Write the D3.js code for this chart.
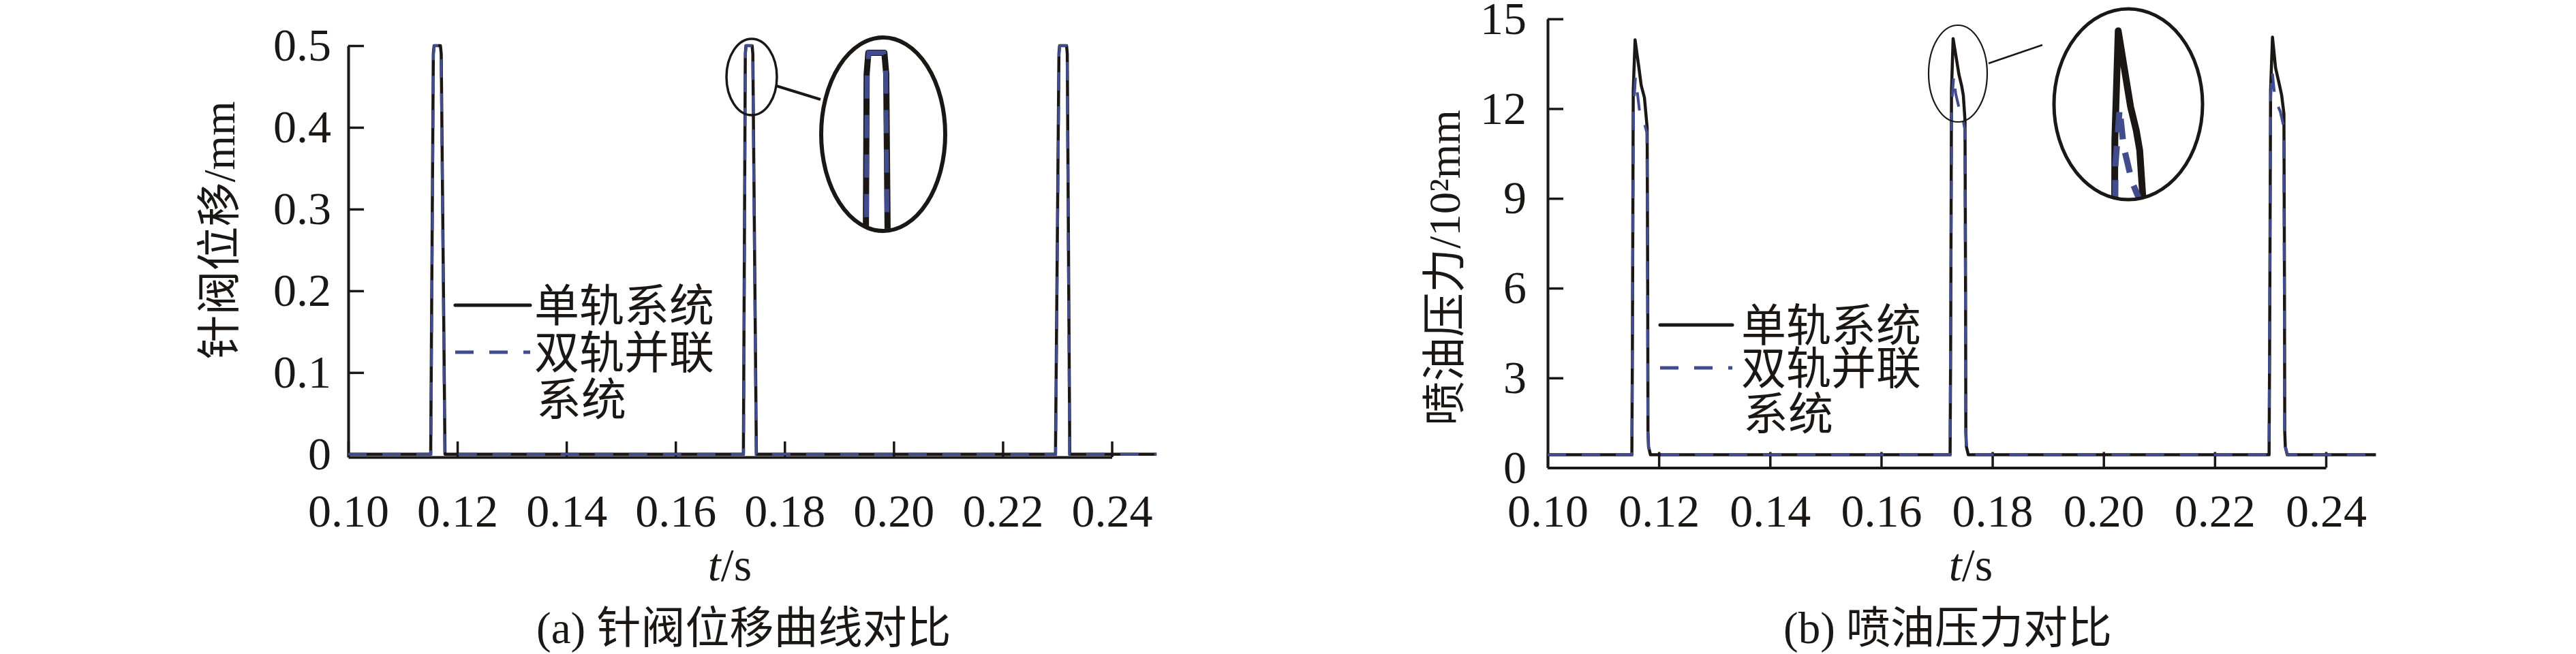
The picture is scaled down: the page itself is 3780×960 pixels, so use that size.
<!DOCTYPE html>
<html>
<head>
<meta charset="utf-8">
<title>针阀位移与喷油压力对比</title>
<script src="https://d3js.org/d3.v7.min.js"></script>
<style>
body { margin: 0; background: white; }
text { fill: #1a1715; }
.serif { font-family: "Liberation Serif", "Noto Sans CJK SC", serif; }
.cjk { font-family: "Liberation Serif", "Noto Sans CJK SC", sans-serif; }
</style>
</head>
<body>
<script>
// time axis
var timeTicks = [0.10, 0.12, 0.14, 0.16, 0.18, 0.20, 0.22, 0.24];
var needleTicks = [0, 0.1, 0.2, 0.3, 0.4, 0.5];
var pressureTicks = [0, 3, 6, 9, 12, 15];
var legendLabels = ["单轨系统", "双轨并联", "系统"];

// (a) needle lift, mm
var needleT_single = [0.1000, 0.11512, 0.11560, 0.11575, 0.11690, 0.11705, 0.11774,
  0.17245, 0.17280, 0.17292, 0.17405, 0.17418, 0.17483,
  0.22967, 0.23030, 0.23042, 0.23170, 0.23183, 0.23229, 0.2482];
var needleV_single = [0, 0, 0.49, 0.5, 0.5, 0.49, 0,
  0, 0.49, 0.5, 0.5, 0.49, 0,
  0, 0.49, 0.5, 0.5, 0.49, 0, 0];
var needleT_dual = [0.1000, 0.11516, 0.11563, 0.11578, 0.11688, 0.11702, 0.11770,
  0.17249, 0.17283, 0.17295, 0.17402, 0.17415, 0.17479,
  0.22971, 0.23033, 0.23045, 0.23167, 0.23180, 0.23225, 0.2482];
var needleV_dual = [0, 0, 0.49, 0.5, 0.5, 0.49, 0,
  0, 0.49, 0.5, 0.5, 0.49, 0,
  0, 0.49, 0.5, 0.5, 0.49, 0, 0];

// (b) injection pressure, x10^2
var pressT_single = [0.1000,
  0.11515, 0.11525, 0.11540, 0.11573, 0.11643, 0.11683, 0.11741, 0.11790, 0.11800, 0.11805, 0.11815, 0.11850,
  0.17240, 0.17250, 0.17265, 0.17294, 0.17400, 0.17448, 0.17478, 0.17508, 0.17518, 0.17523, 0.17533, 0.17568,
  0.22978, 0.22988, 0.23005, 0.23039, 0.23095, 0.23166, 0.23205, 0.23245, 0.23255, 0.23260, 0.23270, 0.23305,
  0.2490];
var pressV_single = [0.43,
  0.43, 4, 12.6, 14.3, 13.35, 12.78, 12.37, 11.37, 6, 1.2, 0.7, 0.43,
  0.43, 4, 12.6, 14.34, 13.13, 12.76, 12.44, 11.6, 6, 1.2, 0.7, 0.43,
  0.43, 4, 12.6, 14.39, 13.36, 12.78, 12.44, 11.83, 6, 1.2, 0.7, 0.43,
  0.43];
var pressT_dual = [0.1000,
  0.11513, 0.11523, 0.11545, 0.11580, 0.11610, 0.11660, 0.11740, 0.11785, 0.11797, 0.11803, 0.11815, 0.11850,
  0.17238, 0.17248, 0.17270, 0.17306, 0.17340, 0.17410, 0.17465, 0.17505, 0.17515, 0.17521, 0.17533, 0.17568,
  0.22976, 0.22986, 0.23008, 0.23033, 0.23070, 0.23110, 0.23180, 0.23240, 0.23252, 0.23258, 0.23270, 0.23305,
  0.2490];
var pressV_dual = [0.43,
  0.43, 4, 12.0, 13.05, 12.6, 11.8, 11.5, 11.2, 6, 1.2, 0.7, 0.43,
  0.43, 4, 12.2, 13.1, 12.5, 11.95, 11.7, 11.3, 6, 1.2, 0.7, 0.43,
  0.43, 4, 12.4, 13.28, 12.6, 12.2, 11.9, 11.4, 6, 1.2, 0.7, 0.43,
  0.43];

var ink = "#1a1715";
var blue = "#414c8d";

var svg = d3.select("body").append("svg")
  .attr("width", 3780)
  .attr("height", 960);

var panels = [
  {
    id: "a",
    xRange: [511, 1631.5], yRange: [671, 67], yDomain: [-0.0035, 0.5],
    yTicks: needleTicks, yFmt: function(d) { return d === 0 ? "0" : d3.format(".1f")(d); },
    single: d3.zip(needleT_single, needleV_single), dual: d3.zip(needleT_dual, needleV_dual),
    yPad: 25, ylabel: "针阀位移/mm", ylabelPos: [322, 338],
    tsX: 1071, title: "(a) 针阀位移曲线对比", titleX: 787,
    legendLine: [668, 778], legendText: 784, legendY: [449, 518, 587],
    small: { cx: 1103, cy: 113, rx: 37, ry: 56, w: 3.5 },
    big: { cx: 1296, cy: 197, rx: 91, ry: 142, w: 6 },
    mag: 2.6, link: [1139, 126, 1204, 146], linkW: 4,
    insetW: [9, 7], insetDash: "34,24"
  },
  {
    id: "b",
    xRange: [2271, 3413], yRange: [686.5, 27.7], yDomain: [0, 15],
    yTicks: pressureTicks, yFmt: d3.format("d"),
    single: d3.zip(pressT_single, pressV_single), dual: d3.zip(pressT_dual, pressV_dual),
    yPad: 31, ylabel: "喷油压力/10²mm", ylabelPos: [2120, 393],
    tsX: 2892, title: "(b) 喷油压力对比", titleX: 2617,
    legendLine: [2436, 2542], legendText: 2555, legendY: [478, 541, 608],
    small: { cx: 2873, cy: 108, rx: 43, ry: 71, w: 2.2 },
    big: { cx: 3123, cy: 153, rx: 109, ry: 140, w: 5 },
    mag: 2.1, link: [2918, 93, 2997, 66], linkW: 2.5,
    insetW: [10, 9], insetDash: "30,20"
  }
];

panels.forEach(function(p) {
  var g = svg.append("g");
  var x = d3.scaleLinear().domain([0.10, 0.24]).range(p.xRange);
  var y = d3.scaleLinear().domain(p.yDomain).range(p.yRange);
  var line = d3.line().x(function(d) { return x(d[0]); }).y(function(d) { return y(d[1]); });

  // axes
  var xAxis = g.append("g")
    .attr("transform", "translate(0," + p.yRange[0] + ")")
    .call(d3.axisBottom(x).tickValues(timeTicks).tickFormat(d3.format(".2f"))
      .tickSizeInner(-23).tickSizeOuter(0));
  xAxis.selectAll("text").attr("y", 773 - p.yRange[0]).attr("dy", 0);

  var yAxis = g.append("g")
    .attr("transform", "translate(" + p.xRange[0] + ",0)")
    .call(d3.axisLeft(y).tickValues(p.yTicks).tickFormat(p.yFmt)
      .tickSizeInner(-23).tickSizeOuter(0).tickPadding(p.yPad));

  g.selectAll(".domain").attr("stroke", ink).attr("stroke-width", 4);
  g.selectAll(".tick line").attr("stroke", ink).attr("stroke-width", 3.5);
  g.selectAll(".tick text")
    .attr("class", "serif")
    .style("font-size", "68px")
    .attr("fill", ink);

  // curves
  g.append("path").datum(p.single)
    .attr("d", line).attr("fill", "none")
    .attr("stroke", ink).attr("stroke-width", 4.5).attr("stroke-linejoin", "round");
  g.append("path").datum(p.dual)
    .attr("d", line).attr("fill", "none")
    .attr("stroke", blue).attr("stroke-width", 4).attr("stroke-dasharray", "27,23");

  // magnified view
  var s = p.small, b = p.big;
  var xi = d3.scaleLinear()
    .domain([x.invert(s.cx - s.rx), x.invert(s.cx + s.rx)])
    .range([b.cx - s.rx * p.mag, b.cx + s.rx * p.mag]);
  var yi = d3.scaleLinear()
    .domain([y.invert(s.cy - s.ry), y.invert(s.cy + s.ry)])
    .range([b.cy - s.ry * p.mag, b.cy + s.ry * p.mag]);
  var lineInset = d3.line().x(function(d) { return xi(d[0]); }).y(function(d) { return yi(d[1]); });

  svg.append("clipPath").attr("id", "clip-" + p.id)
    .append("ellipse")
    .attr("cx", b.cx).attr("cy", b.cy).attr("rx", b.rx - 2).attr("ry", b.ry + 2);
  var inset = g.append("g").attr("clip-path", "url(#clip-" + p.id + ")");
  inset.append("path").datum(p.single)
    .attr("d", lineInset).attr("fill", "none")
    .attr("stroke", ink).attr("stroke-width", p.insetW[0]).attr("stroke-linejoin", "round");
  inset.append("path").datum(p.dual)
    .attr("d", lineInset).attr("fill", "none")
    .attr("stroke", blue).attr("stroke-width", p.insetW[1]).attr("stroke-dasharray", p.insetDash);

  g.append("ellipse")
    .attr("cx", s.cx).attr("cy", s.cy).attr("rx", s.rx).attr("ry", s.ry)
    .attr("fill", "none").attr("stroke", ink).attr("stroke-width", s.w);
  g.append("ellipse")
    .attr("cx", b.cx).attr("cy", b.cy).attr("rx", b.rx).attr("ry", b.ry)
    .attr("fill", "none").attr("stroke", ink).attr("stroke-width", b.w);
  g.append("line")
    .attr("x1", p.link[0]).attr("y1", p.link[1]).attr("x2", p.link[2]).attr("y2", p.link[3])
    .attr("stroke", ink).attr("stroke-width", p.linkW);

  // legend
  g.append("line")
    .attr("x1", p.legendLine[0]).attr("x2", p.legendLine[1])
    .attr("y1", p.legendY[0] - 1).attr("y2", p.legendY[0] - 1)
    .attr("stroke", ink).attr("stroke-width", 5).attr("stroke-linecap", "round");
  g.append("line")
    .attr("x1", p.legendLine[0]).attr("x2", p.legendLine[1])
    .attr("y1", p.legendY[1] - 1).attr("y2", p.legendY[1] - 1)
    .attr("stroke", blue).attr("stroke-width", 5).attr("stroke-dasharray", "27,23");
  g.selectAll(".legend-text")
    .data(legendLabels)
    .enter().append("text")
    .attr("class", "cjk")
    .attr("x", function(d, i) { return p.legendText + (i === 2 ? 3 : 0); })
    .attr("y", function(d, i) { return p.legendY[i]; })
    .attr("dominant-baseline", "central")
    .style("font-size", "66px")
    .text(function(d) { return d; });

  // labels
  g.append("text")
    .attr("class", "cjk")
    .attr("transform", "translate(" + p.ylabelPos[0] + "," + p.ylabelPos[1] + ") rotate(-90)")
    .attr("text-anchor", "middle")
    .attr("dominant-baseline", "central")
    .style("font-size", "65px")
    .text(p.ylabel);

  var ts = g.append("text")
    .attr("class", "serif")
    .attr("x", p.tsX).attr("y", 852)
    .attr("text-anchor", "middle")
    .style("font-size", "68px");
  ts.append("tspan").style("font-style", "italic").text("t");
  ts.append("tspan").text("/s");

  g.append("text")
    .attr("class", "cjk")
    .attr("x", p.titleX).attr("y", 944)
    .style("font-size", "65px")
    .text(p.title);
});
</script>
</body>
</html>
